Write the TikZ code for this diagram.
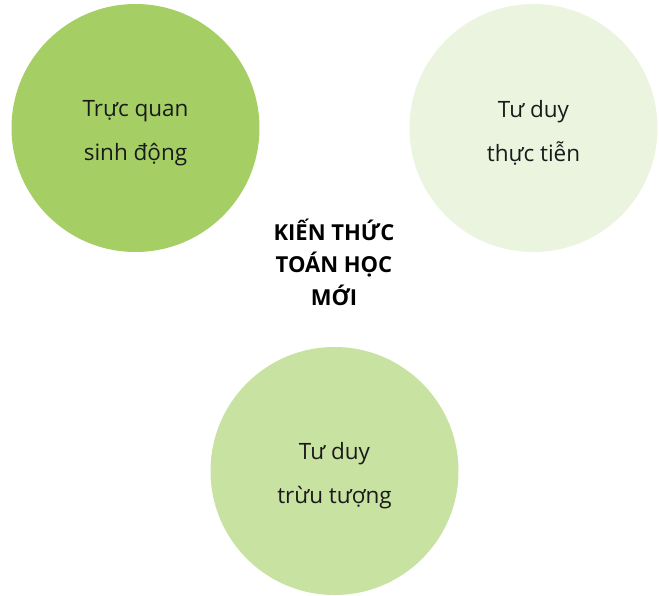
\documentclass[tikz,border=0pt]{standalone}
\usepackage{fontspec}
\setmainfont{Open Sans}
\definecolor{cA}{HTML}{A5CF64}
\definecolor{cB}{HTML}{EAF4DF}
\definecolor{cC}{HTML}{C8E2A2}
\definecolor{txt}{HTML}{1A1A1A}
\begin{document}
\begin{tikzpicture}[x=1pt,y=-1pt,
  bubble/.style={circle,inner sep=0pt,minimum size=248pt,draw=none},
  btext/.style={align=center,text=txt,font=\fontsize{22.5}{44}\selectfont},
  title/.style={align=center,text=black,font=\bfseries\fontsize{22}{32.5}\selectfont}]
\useasboundingbox (0,0) rectangle (659,595);
\begin{scope}
\clip (0,0) rectangle (659,595);
\node[bubble,fill=cA] (a) at (135.5,128) {};
\node[bubble,fill=cB] (b) at (533.5,128) {};
\node[bubble,fill=cC] (c) at (334.5,471) {};
\end{scope}
\node[btext] (ta) at ([yshift=-5pt]a.center) {Trực quan\\sinh động};
\node[btext] (tb) at ([yshift=-5pt]b.center) {Tư duy\\thực tiễn};
\node[btext] (tc) at ([yshift=-5pt]c.center) {Tư duy\\trừu tượng};
\node[title] (t) at (334,262) {KIẾN THỨC\\TOÁN HỌC\\MỚI};
\end{tikzpicture}
\end{document}
